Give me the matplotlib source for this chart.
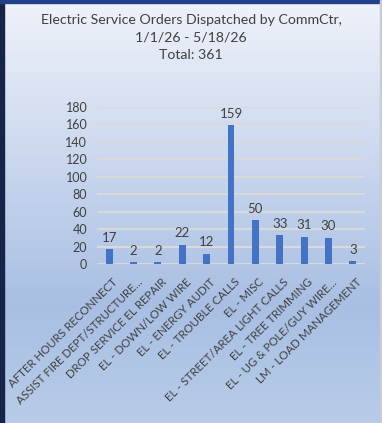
import numpy as np
import matplotlib.pyplot as plt
import matplotlib.transforms as mtransforms
from matplotlib.patches import Rectangle

plt.rcParams['font.family'] = ['Lato', 'DejaVu Sans']

categories = ['AFTER HOURS RECONNECT', 'ASSIST FIRE DEPT/STRUCTURE...',
              'DROP SERVICE EL REPAIR', 'EL - DOWN/LOW WIRE',
              'EL - ENERGY AUDIT', 'EL - TROUBLE CALLS', 'EL - MISC',
              'EL - STREET/AREA LIGHT CALLS', 'EL - TREE TRIMMING',
              'EL - UG & POLE/GUY WIRE...', 'LM - LOAD MANAGEMENT']
values = [17, 2, 2, 22, 12, 159, 50, 33, 31, 30, 3]
yticks = [0, 20, 40, 60, 80, 100, 120, 140, 160, 180]
title = 'Electric Service Orders Dispatched by CommCtr,\n1/1/26 - 5/18/26\nTotal: 361'

fig = plt.figure(figsize=(3.82, 4.23), dpi=100)

# gradient background (light at top, blue lower down)
bg = fig.add_axes([0, 0, 1, 1], zorder=0)
n = 256
top = np.array([0.94, 0.95, 0.98])
mid = np.array([0.66, 0.75, 0.89])
bot = np.array([0.72, 0.80, 0.91])
cols = np.zeros((n, 1, 3))
for i in range(n):
    t = i / (n - 1)
    if t < 0.72:
        s = t / 0.72
        cols[i, 0] = top * (1 - s) + mid * s
    else:
        s = (t - 0.72) / 0.28
        cols[i, 0] = mid * (1 - s) + bot * s
bg.imshow(cols, aspect='auto', extent=[0, 1, 0, 1])
bg.axis('off')

# borders
fig.patches.append(Rectangle((0, 0), 4 / 382, 1, transform=fig.transFigure,
                             color='#16244a', zorder=5))
fig.patches.append(Rectangle((0, 1 - 3 / 423), 1, 3 / 423, transform=fig.transFigure,
                             color='#22408a', zorder=5))
fig.patches.append(Rectangle((1 - 2 / 382, 0), 2 / 382, 1, transform=fig.transFigure,
                             color='#c8ccd4', zorder=5))

ax = fig.add_axes([97 / 382, 1 - 264 / 423, 268 / 382, 157 / 423], zorder=1)
ax.set_facecolor('none')
x = np.arange(len(categories))
ax.bar(x, values, width=0.28, color='#4472c4', zorder=3)
for xi, v in zip(x, values):
    ax.annotate(str(v), (xi, v), xytext=(0, 4), textcoords='offset points',
                ha='center', va='bottom', fontsize=9.5, color='#404040')

ax.set_ylim(0, 180)
ax.set_xlim(-0.5, len(categories) - 0.5)
ax.set_yticks(yticks)
ax.set_yticklabels([str(t) for t in yticks], fontsize=9, color='#404040')
ax.yaxis.grid(True, color='#d9d9d9', linewidth=1.5, zorder=0)
ax.tick_params(axis='both', length=0)
ax.tick_params(axis='y', pad=7)
ax.tick_params(axis='x', pad=9)
ax.set_xticks(x)
ax.set_xticklabels(categories, rotation=45, ha='right', rotation_mode='anchor',
                   fontsize=8.3, color='#404040')
shift = mtransforms.ScaledTranslation(3 / 100, 0, fig.dpi_scale_trans)
for lbl in ax.get_xticklabels():
    lbl.set_transform(lbl.get_transform() + shift)
for s in ax.spines.values():
    s.set_visible(False)

fig.text(0.5, 1 - 14 / 423, title, ha='center', va='top', fontsize=10.2,
         color='#404040', linespacing=1.55)

plt.savefig('out.png', dpi=100)
